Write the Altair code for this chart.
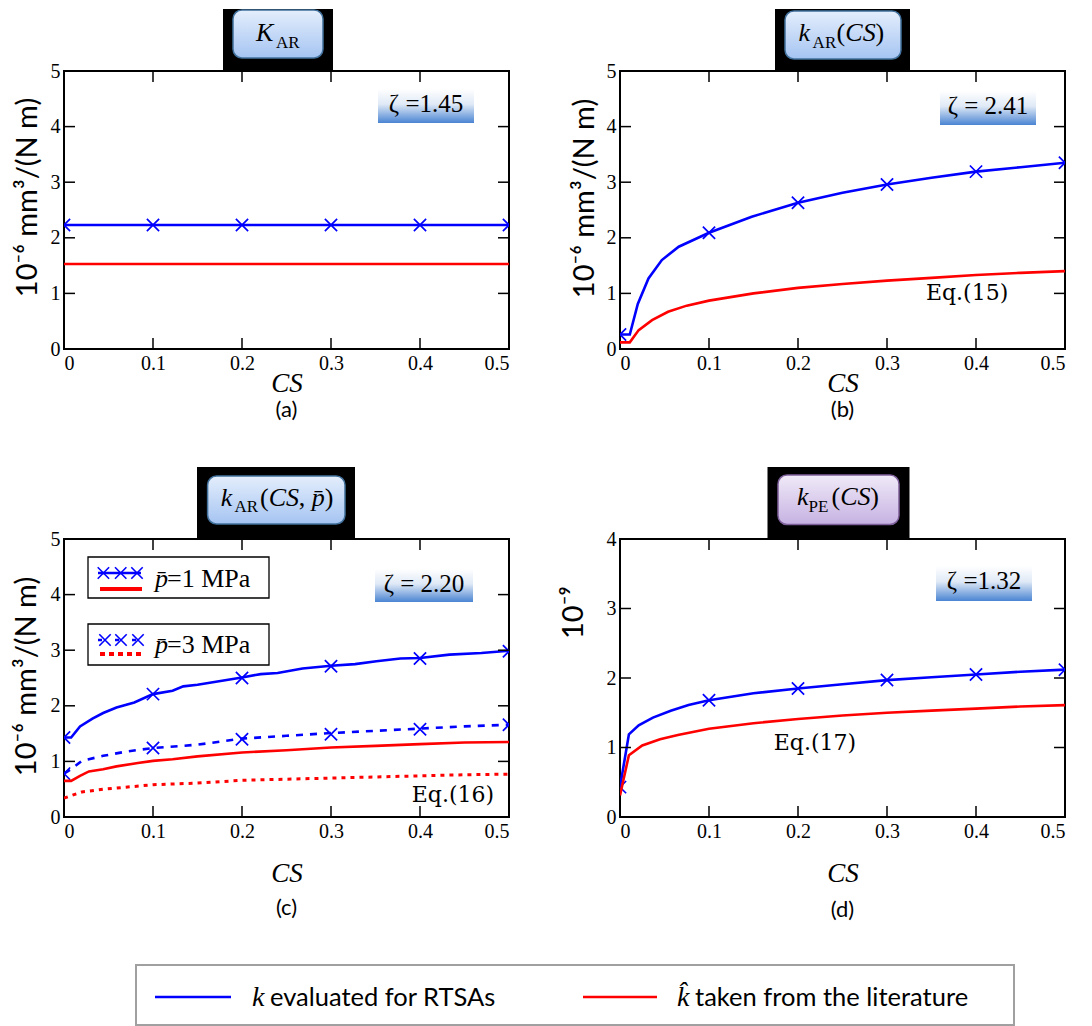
import altair as alt
import pandas as pd

# ---------------- data ----------------
CS_MARK = [0.0, 0.1, 0.2, 0.3, 0.4, 0.5]
X_LABELS = [0.0, 0.1, 0.2, 0.3, 0.4, 0.5]
X_TICKS_IN = [0.1, 0.2, 0.3, 0.4]
Y_LABELS_6 = [0, 1, 2, 3, 4, 5]
Y_TICKS_IN_6 = [1, 2, 3, 4]
Y_LABELS_9 = [0, 1, 2, 3, 4]
Y_TICKS_IN_9 = [1, 2, 3]

# (a) K_AR
A_CS = [0.0, 0.1, 0.2, 0.3, 0.4, 0.5]
A_K = [2.23, 2.23, 2.23, 2.23, 2.23, 2.23]
A_KHAT = [1.53, 1.53, 1.53, 1.53, 1.53, 1.53]

# (b) k_AR(CS)
B_CS = [0.0, 0.011, 0.02, 0.032, 0.047, 0.066, 0.1, 0.148, 0.2, 0.25, 0.3, 0.35, 0.4, 0.45, 0.5]
B_K = [0.26, 0.26, 0.81, 1.27, 1.60, 1.84, 2.09, 2.38, 2.63, 2.81, 2.96, 3.08, 3.19, 3.27, 3.35]
B_CS_HAT = [0.0, 0.011, 0.021, 0.036, 0.054, 0.075, 0.1, 0.15, 0.2, 0.25, 0.3, 0.35, 0.4, 0.45, 0.5]
B_KHAT = [0.12, 0.12, 0.34, 0.52, 0.67, 0.78, 0.87, 1.00, 1.10, 1.17, 1.23, 1.28, 1.33, 1.37, 1.40]
B_K_MARK = [0.26, 2.09, 2.63, 2.96, 3.19, 3.35]

# (c) k_AR(CS, p)
C1_CS = [0.0, 0.008, 0.018, 0.032, 0.044, 0.059, 0.079, 0.1, 0.122, 0.134, 0.15, 0.2,
         0.221, 0.24, 0.268, 0.3, 0.327, 0.351, 0.378, 0.4, 0.433, 0.469, 0.5]
C1_K = [1.43, 1.43, 1.63, 1.77, 1.87, 1.97, 2.06, 2.21, 2.27, 2.35, 2.38, 2.51,
        2.57, 2.59, 2.67, 2.72, 2.75, 2.80, 2.85, 2.86, 2.92, 2.95, 2.99]
C1_K_MARK = [1.43, 2.21, 2.50, 2.71, 2.85, 2.98]
C3_CS = [0.0, 0.008, 0.02, 0.044, 0.071, 0.1, 0.15, 0.2, 0.25, 0.3, 0.35, 0.4, 0.45, 0.5]
C3_K = [0.78, 0.86, 1.01, 1.10, 1.18, 1.24, 1.30, 1.41, 1.46, 1.51, 1.55, 1.59, 1.63, 1.66]
C3_K_MARK = [0.78, 1.24, 1.40, 1.49, 1.58, 1.66]
C1H_CS = [0.0, 0.008, 0.018, 0.028, 0.044, 0.059, 0.083, 0.1, 0.122, 0.15, 0.2, 0.25,
          0.3, 0.35, 0.4, 0.45, 0.5]
C1_KHAT = [0.65, 0.65, 0.74, 0.82, 0.86, 0.91, 0.97, 1.01, 1.04, 1.09, 1.16, 1.20,
           1.25, 1.28, 1.31, 1.34, 1.35]
C3H_CS = [0.0, 0.02, 0.044, 0.1, 0.15, 0.2, 0.25, 0.3, 0.35, 0.4, 0.45, 0.5]
C3_KHAT = [0.34, 0.45, 0.50, 0.58, 0.61, 0.66, 0.68, 0.70, 0.72, 0.74, 0.76, 0.77]

# (d) k_PE(CS)
D_CS = [0.0, 0.01, 0.021, 0.037, 0.057, 0.077, 0.1, 0.15, 0.2, 0.25, 0.3, 0.35, 0.4, 0.45, 0.5]
D_K = [0.43, 1.19, 1.32, 1.43, 1.53, 1.61, 1.68, 1.78, 1.85, 1.91, 1.97, 2.01, 2.05, 2.09, 2.12]
D_K_MARK = [0.43, 1.68, 1.85, 1.97, 2.05, 2.12]
D_CS_HAT = [0.0, 0.01, 0.025, 0.045, 0.065, 0.1, 0.15, 0.2, 0.25, 0.3, 0.35, 0.4, 0.45, 0.5]
D_KHAT = [0.31, 0.89, 1.03, 1.12, 1.18, 1.27, 1.35, 1.41, 1.46, 1.50, 1.53, 1.56, 1.59, 1.61]

# ---------------- style ----------------
W, H = 445, 278
TICK = 11
BLUE, RED = "#0000ff", "#ff0000"
SERIF, SANS = "Liberation Serif", "Lato"
XSHAPE = "M-1,-1L1,1M-1,1L1,-1"
ONE = pd.DataFrame({"o": [0]})


def grad(stops):
    return alt.LinearGradient(
        gradient="linear",
        stops=[alt.GradientStop(color=c, offset=o) for o, c in stops],
        x1=0, x2=0, y1=0, y2=1,
    )


BLUE_BOX = grad([(0, "#e4eefc"), (1, "#a5c4f2")])
PURPLE_BOX = grad([(0, "#f0eaf8"), (1, "#c6b2e2")])
ZETA_BOX = grad([(0, "#ffffff"), (0.45, "#dfe9f6"), (1, "#4a84d2")])


def ptext(txt, x, y, size, font=SERIF, style="normal", align="left", baseline="alphabetic"):
    return alt.Chart(ONE).mark_text(
        text=txt, font=font, fontSize=size, fontStyle=style, align=align,
        baseline=baseline, color="black",
    ).encode(x=alt.value(x), y=alt.value(y))


def prect(x1, x2, y1, y2, **props):
    return alt.Chart(ONE).mark_rect(**props).encode(
        x=alt.value(x1), x2=alt.value(x2), y=alt.value(y1), y2=alt.value(y2))


def prule(x1, x2, y, **props):
    return alt.Chart(ONE).mark_rule(**props).encode(
        x=alt.value(x1), x2=alt.value(x2), y=alt.value(y))


def ppoint(x, y, color=BLUE):
    return alt.Chart(ONE).mark_point(
        shape=XSHAPE, size=130, filled=False, color=color, strokeWidth=1.6, opacity=1,
    ).encode(x=alt.value(x), y=alt.value(y))


class Panel:
    def __init__(self, ymax, ylabels, yticks_in, ytitle, ytx, yty, xty):
        xs = alt.Scale(domain=[0, 0.5], nice=False, zero=False)
        ys = alt.Scale(domain=[0, ymax], nice=False, zero=False)
        xax = alt.Axis(values=X_LABELS, format="~g", title="CS", titleFont=SERIF,
                       titleFontStyle="italic", titleFontSize=27, titleFontWeight="normal",
                       titleY=xty, titleBaseline="middle")
        yax = alt.Axis(values=ylabels, format="d", title=ytitle, titleFont=SANS,
                       titleFontSize=29, titleFontWeight="normal", titleAngle=270,
                       titleX=ytx, titleY=yty, titleAlign="center", titleBaseline="middle")
        self.X = alt.X("x:Q", scale=xs, axis=xax)
        self.Y = alt.Y("y:Q", scale=ys, axis=yax)
        self.yticks_in = yticks_in
        self.layers = []

    def line(self, xs_, ys_, color, dash=None, width=2.6):
        props = dict(color=color, strokeWidth=width, clip=True)
        if dash is not None:
            props["strokeDash"] = dash
        df = pd.DataFrame({"x": xs_, "y": ys_})
        self.layers.append(alt.Chart(df).mark_line(**props).encode(x=self.X, y=self.Y))

    def marks(self, ys_, color=BLUE):
        df = pd.DataFrame({"x": CS_MARK, "y": ys_})
        self.layers.append(alt.Chart(df).mark_point(
            shape=XSHAPE, size=150, filled=False, color=color, strokeWidth=1.7,
            opacity=1, clip=True).encode(x=self.X, y=self.Y))

    def datum_text(self, txt, x, y, size=22, font="DejaVu Serif"):
        self.layers.append(alt.Chart(ONE).mark_text(
            text=txt, font=font, fontSize=size, color="black", align="center",
            baseline="middle").encode(x=alt.datum(x), y=alt.datum(y)))

    def add(self, *layers):
        self.layers.extend(layers)

    def build(self):
        xt = pd.DataFrame({"x": X_TICKS_IN})
        yt = pd.DataFrame({"y": self.yticks_in})
        rp = dict(color="black", strokeWidth=1.5)
        ticks = [
            alt.Chart(xt).mark_rule(**rp).encode(x=self.X, y=alt.value(H), y2=alt.value(H - TICK)),
            alt.Chart(xt).mark_rule(**rp).encode(x=self.X, y=alt.value(0), y2=alt.value(TICK)),
            alt.Chart(yt).mark_rule(**rp).encode(y=self.Y, x=alt.value(0), x2=alt.value(TICK)),
            alt.Chart(yt).mark_rule(**rp).encode(y=self.Y, x=alt.value(W - TICK), x2=alt.value(W)),
        ]
        return alt.layer(*(self.layers + ticks)).properties(width=W, height=H)


def title_box(bx, ix, iy, by_top, fill, border):
    return [
        prect(bx[0], bx[1], by_top, 0, color="black"),
        prect(ix[0], ix[1], iy[0], iy[1], fill=fill, stroke=border, strokeWidth=1.5,
              cornerRadius=9),
    ]


def zeta(x1, x2, y1, y2, txt, baseline):
    return [
        prect(x1, x2, y1, y2, fill=ZETA_BOX),
        ptext(txt, (x1 + x2) / 2, baseline, 25, align="center"),
    ]


YT6 = "10\u207b\u2076  mm\u00b3/(N m)"
YT9 = "10\u207b\u2079"

# ---------- (a) ----------
pa = Panel(5, Y_LABELS_6, Y_TICKS_IN_6, YT6, -37, 126, 34)
pa.line(A_CS, A_K, BLUE)
pa.marks(A_K)
pa.line(A_CS, A_KHAT, RED)
pa.add(*title_box((159, 269), (169, 259), (-61, -13), -62, BLUE_BOX, "#41719c"))
pa.add(ptext("K", 192, -30, 26, style="italic"), ptext("AR", 212, -23.5, 17))
pa.add(*zeta(314, 410, 18, 52, "\u03b6 =1.45", 41))
pa.add(ptext("(a)", W / 2, 61 + H, 22, font=SANS, align="center", baseline="middle"))

# ---------- (b) ----------
pb = Panel(5, Y_LABELS_6, Y_TICKS_IN_6, YT6, -36, 127, 34)
pb.line(B_CS, B_K, BLUE)
pb.marks(B_K_MARK)
pb.line(B_CS_HAT, B_KHAT, RED)
pb.add(*title_box((155, 290), (165, 281), (-60, -12), -62, BLUE_BOX, "#41719c"))
pb.add(ptext("k", 178.6, -29.6, 26, style="italic"), ptext("AR", 192.6, -23.3, 17),
       ptext("(", 216.6, -29.6, 26), ptext("CS", 225.3, -29.6, 26, style="italic"),
       ptext(")", 255.5, -29.6, 26))
pb.add(*zeta(320, 416, 20, 54, "\u03b6 = 2.41", 43))
pb.datum_text("Eq.(15)", 0.39, 1.0)
pb.add(ptext("(b)", W / 2, 61 + H, 22, font=SANS, align="center", baseline="middle"))

# ---------- (c) ----------
pc = Panel(5, Y_LABELS_6, Y_TICKS_IN_6, YT6, -38, 137, 56)
pc.line(C1_CS, C1_K, BLUE)
pc.marks(C1_K_MARK)
pc.line(C3_CS, C3_K, BLUE, dash=[7, 7])
pc.marks(C3_K_MARK)
pc.line(C1H_CS, C1_KHAT, RED)
pc.line(C3H_CS, C3_KHAT, RED, dash=[4, 5], width=3)
pc.add(*title_box((133, 291), (143.6, 281), (-63, -15), -72, BLUE_BOX, "#41719c"))
pc.add(ptext("k", 156.7, -33.5, 26, style="italic"), ptext("AR", 170.5, -27.3, 17),
       ptext("(", 196, -33.5, 26), ptext("CS", 204.7, -33.5, 26, style="italic"),
       ptext(",", 234.7, -33.5, 26), ptext("p\u0304", 247.7, -33.5, 26, style="italic"),
       ptext(")", 260.7, -33.5, 26))
pc.add(*zeta(311, 409, 30, 63, "\u03b6 = 2.20", 53))
pc.datum_text("Eq.(16)", 0.437, 0.4)
# inner legend boxes
pc.add(prect(24, 205, 18, 59, fill="white", stroke="black", strokeWidth=1.3),
       prule(34, 77, 34, color=BLUE, strokeWidth=2.5),
       ppoint(39.4, 34), ppoint(56.7, 34), ppoint(73, 34),
       prule(36, 78, 50, color=RED, strokeWidth=4),
       ptext("p\u0304", 91, 47.5, 26, style="italic"), ptext("=1 MPa", 103, 47.5, 26))
pc.add(prect(24, 205, 85, 126, fill="white", stroke="black", strokeWidth=1.3),
       prule(34, 77, 101, color=BLUE, strokeWidth=2.5, strokeDash=[4, 13]),
       ppoint(41, 101), ppoint(57, 101), ppoint(74, 101),
       prule(36, 78, 115, color=RED, strokeWidth=4, strokeDash=[5, 4]),
       ptext("p\u0304", 91, 114, 26, style="italic"), ptext("=3 MPa", 103, 114, 26))
pc.add(ptext("(c)", W / 2, 91 + H, 22, font=SANS, align="center", baseline="middle"))
# figure legend (below the panels)
pc.add(prect(72, 950, 426, 486, fill="white", stroke="#a0a0a0", strokeWidth=2),
       prule(91, 167, 458, color=BLUE, strokeWidth=2.5),
       ptext("k", 188, 467, 28, style="italic"),
       ptext("evaluated for RTSAs", 206, 467, 25.5, font=SANS),
       prule(519, 593, 458, color=RED, strokeWidth=2.5),
       ptext("k\u0302", 613, 467, 28, style="italic"),
       ptext("taken from the literature", 631, 467, 25.5, font=SANS))

# ---------- (d) ----------
pd_ = Panel(4, Y_LABELS_9, Y_TICKS_IN_9, YT9, -47, 73, 56)
pd_.line(D_CS, D_K, BLUE)
pd_.marks(D_K_MARK)
pd_.line(D_CS_HAT, D_KHAT, RED)
pd_.add(*title_box((147.5, 289.5), (158, 279), (-64, -14.5), -72, PURPLE_BOX, "#7d5f99"))
pd_.add(ptext("k", 177, -34, 26, style="italic"), ptext("PE", 188.6, -27.5, 17),
        ptext("(", 211.5, -34, 26), ptext("CS", 220.2, -34, 26, style="italic"),
        ptext(")", 250.2, -34, 26))
pd_.add(*zeta(316, 412, 27, 62, "\u03b6 =1.32", 50))
pd_.datum_text("Eq.(17)", 0.219, 1.07)
pd_.add(ptext("(d)", W / 2, 93 + H, 22, font=SANS, align="center", baseline="middle"))

chart = alt.concat(
    pa.build(), pb.build(), pc.build(), pd_.build(),
    columns=2,
    spacing={"row": 190, "column": 111},
    bounds="flush",
    padding={"left": 2, "top": 0, "right": 0, "bottom": 0},
).configure_view(
    stroke="black", strokeWidth=2
).configure_axis(
    domain=False, ticks=False, tickSize=0, grid=False,
    labelFont=SERIF, labelFontSize=20, labelColor="black", labelPadding=4,
    titleColor="black",
)

chart.save("out.html", embed_options={"renderer": "svg", "actions": False})
